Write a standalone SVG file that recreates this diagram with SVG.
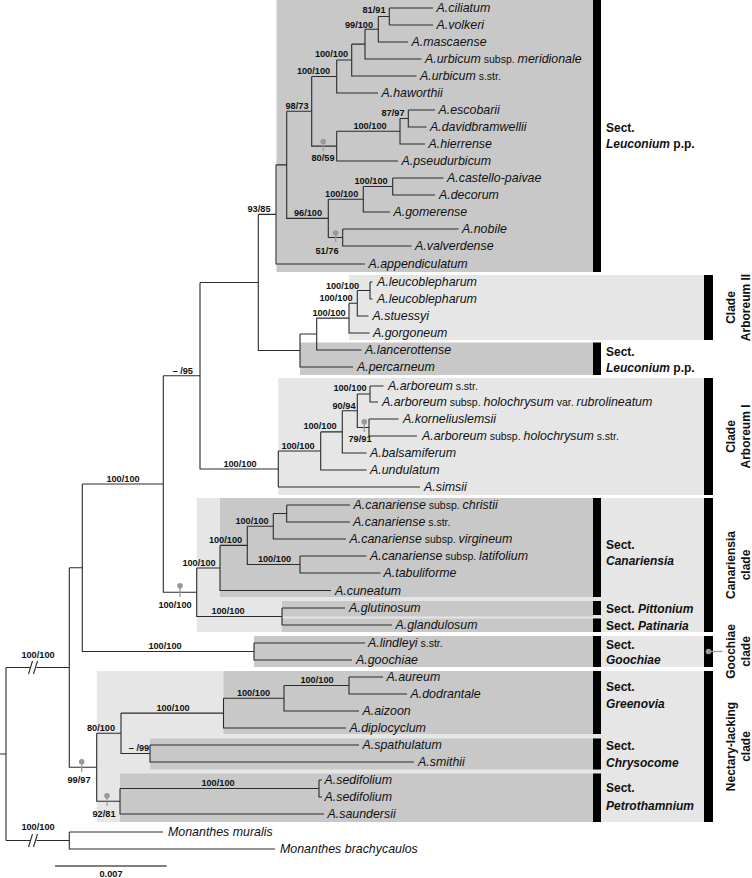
<svg xmlns="http://www.w3.org/2000/svg" width="752" height="878" viewBox="0 0 752 878">
<style>
.t{font-family:"Liberation Sans",Arial,sans-serif;font-size:12.4px;font-style:italic;fill:#111}
.u{font-style:normal;font-size:10.5px}
.s{font-family:"Liberation Sans",Arial,sans-serif;font-size:9.2px;font-weight:bold;text-anchor:middle;fill:#111}
.sec{font-family:"Liberation Sans",Arial,sans-serif;font-size:12px;font-weight:bold;fill:#111}
.i{font-style:italic}
.cl{font-family:"Liberation Sans",Arial,sans-serif;font-size:12px;font-weight:bold;fill:#111;text-anchor:middle}
.dk{fill:#c8c8c8}
.lt{fill:#e6e6e6}
.bar{fill:#000}
.br{fill:none;stroke:#2b2b2b;stroke-width:1.1}
.dot{fill:#9a9a9a}
.dl{stroke:#9a9a9a;stroke-width:1.3}
</style>
<rect width="752" height="878" fill="#fff"/>
<g id="boxes">
<rect class="dk" x="276.5" y="0" width="316.5" height="272"/>
<rect class="lt" x="349" y="275" width="355" height="65"/>
<rect class="dk" x="300" y="342.5" width="293" height="32.5"/>
<rect class="lt" x="278.3" y="378" width="425.7" height="117"/>
<rect class="lt" x="196.7" y="498" width="507.3" height="134"/>
<rect class="dk" x="220" y="498" width="373" height="99"/>
<rect class="dk" x="282" y="601" width="311" height="15.5"/>
<rect class="dk" x="282" y="618.5" width="311" height="13.5"/>
<rect class="lt" x="593" y="636" width="111" height="31"/>
<rect class="dk" x="254" y="636" width="339" height="31"/>
<rect class="lt" x="96.7" y="671" width="607.3" height="151"/>
<rect class="dk" x="223.5" y="671" width="369.5" height="63"/>
<rect class="dk" x="150" y="738.5" width="443" height="31"/>
<rect class="dk" x="120" y="773.5" width="473" height="48.5"/>
</g>
<g id="bars">
<rect class="bar" x="593" y="0" width="8" height="272"/>
<rect class="bar" x="593" y="342.5" width="8" height="32.5"/>
<rect class="bar" x="593" y="498" width="8" height="99"/>
<rect class="bar" x="593" y="601" width="8" height="14"/>
<rect class="bar" x="593" y="618.5" width="8" height="13.5"/>
<rect class="bar" x="593" y="636" width="8" height="31"/>
<rect class="bar" x="593" y="671" width="8" height="63"/>
<rect class="bar" x="593" y="738.5" width="8" height="31"/>
<rect class="bar" x="593" y="773.5" width="8" height="48.5"/>
<rect class="bar" x="704" y="275" width="9" height="65"/>
<rect class="bar" x="704" y="378" width="9" height="117"/>
<rect class="bar" x="704" y="498" width="9" height="134"/>
<rect class="bar" x="704" y="636" width="9" height="31"/>
<rect class="bar" x="704" y="671" width="9" height="151"/>
</g>
<g id="connectors" class="br">
<path d="M389.3,8V25M389.3,8H433M389.3,25H433"/>
<path d="M378.3,16.5V42H408M378.3,16.5H389.3"/>
<path d="M365,29.25V59H421.5M365,29.25H378.3"/>
<path d="M351.7,44.1V76H416.5M351.7,44.1H365"/>
<path d="M336.7,60.05V93H378M336.7,60.05H351.7"/>
<path d="M408.3,110V127H426.5M408.3,110H435"/>
<path d="M400,118.5V144H425M400,118.5H408.3"/>
<path d="M336.7,131.25V161H398M336.7,131.25H400"/>
<path d="M311.7,76.5V146.1H336.7M311.7,76.5H336.7"/>
<path d="M392.7,178V195H435M392.7,178H443.5"/>
<path d="M363.3,186.5V212H390M363.3,186.5H392.7"/>
<path d="M342.7,229V246H411.5M342.7,229H458.5"/>
<path d="M328.3,199.25V237.5H342.7M328.3,199.25H363.3"/>
<path d="M286.7,111.3V218.4H328.3M286.7,111.3H311.7"/>
<path d="M276,164.85V264H365M276,164.85H286.7"/>
<path d="M370,282V299H372.5M370,282H372.5"/>
<path d="M357.3,290.5V316H368.5M357.3,290.5H370"/>
<path d="M349,303.25V333H369.5M349,303.25H357.3"/>
<path d="M316.7,318.1V350H361.5M316.7,318.1H349"/>
<path d="M300,334V367H353M300,334H316.7"/>
<path d="M258.3,214.4V350.5H300M258.3,214.4H276"/>
<path d="M370,386V402H378M370,386H383.5"/>
<path d="M369,419V436H417M369,419H398.5"/>
<path d="M357.3,394V427.5H369M357.3,394H370"/>
<path d="M342.3,410.75V453H366.5M342.3,410.75H357.3"/>
<path d="M320.7,431.9V470H366.5M320.7,431.9H342.3"/>
<path d="M278.3,450.95V487H420M278.3,450.95H320.7"/>
<path d="M200,282.45V468.98H278.3M200,282.45H258.3"/>
<path d="M286.7,505V522H350M286.7,505H350"/>
<path d="M273.3,513.5V539H346M273.3,513.5H286.7"/>
<path d="M300,556V573H380.5M300,556H366.5"/>
<path d="M247.3,526.25V564.5H300M247.3,526.25H273.3"/>
<path d="M220,545.4V590.5H331M220,545.4H247.3"/>
<path d="M282,608V625H392M282,608H345"/>
<path d="M196.7,567.95V616.5H282M196.7,567.95H220"/>
<path d="M163.3,375.7V592.2H196.7M163.3,375.7H200"/>
<path d="M254,643V660H352M254,643H365"/>
<path d="M82.3,483.95V651.5H254M82.3,483.95H163.3"/>
<path d="M349,677V694H407M349,677H383"/>
<path d="M284,685.5V711H359M284,685.5H349"/>
<path d="M223.5,698.25V728H346M223.5,698.25H284"/>
<path d="M150,745V762H414M150,745H359"/>
<path d="M121,713.1V753.5H150M121,713.1H223.5"/>
<path d="M319,780V797H322M319,780H322"/>
<path d="M120,788.5V814H324M120,788.5H319"/>
<path d="M96.7,733.3V801.25H120M96.7,733.3H121"/>
<path d="M69.3,567.7V767.3H96.7M69.3,567.7H82.3"/>
<path d="M69.3,832V849H275M69.3,832H163"/>
<path d="M0,754H6M6,667.5V840.5M6,667.5H30.5M36.5,667.5H69.3M6,840.5H30.5M36.5,840.5H69.3"/>
<path d="M28.5,674L32.5,661M33.5,674L37.5,661M28.5,847L32.5,834M33.5,847L37.5,834"/>
</g>
<g id="scale">
<path d="M55,866H166.7" stroke="#555" stroke-width="1.3"/>
<text class="s" x="111" y="877">0.007</text>
</g>
<g id="dots">
<circle class="dot" cx="323.3" cy="141.5" r="2.8"/><path class="dl" d="M323.3,141.5V151"/>
<circle class="dot" cx="335.7" cy="233" r="2.8"/><path class="dl" d="M335.7,233V242"/>
<circle class="dot" cx="364.3" cy="421.7" r="2.8"/><path class="dl" d="M364.3,421.7V432"/>
<circle class="dot" cx="180" cy="585.7" r="2.8"/><path class="dl" d="M180,585.7V597"/>
<circle class="dot" cx="81.7" cy="761.7" r="2.8"/><path class="dl" d="M81.7,761.7V772"/>
<circle class="dot" cx="107" cy="795.7" r="2.8"/><path class="dl" d="M107,795.7V806"/>
<circle class="dot" cx="708.5" cy="651.5" r="2.8"/><path class="dl" d="M711,651.5H722.5"/>
</g>
<g id="support">
<text class="s" x="374" y="13">81/91</text>
<text class="s" x="359" y="27.5">99/100</text>
<text class="s" x="331.5" y="57">100/100</text>
<text class="s" x="313.5" y="74">100/100</text>
<text class="s" x="297" y="108.5">98/73</text>
<text class="s" x="393" y="115.5">87/97</text>
<text class="s" x="370" y="129">100/100</text>
<text class="s" x="323" y="161">80/59</text>
<text class="s" x="371" y="184">100/100</text>
<text class="s" x="341.7" y="197">100/100</text>
<text class="s" x="308" y="216">96/100</text>
<text class="s" x="327" y="254">51/76</text>
<text class="s" x="259" y="211.5">93/85</text>
<text class="s" x="342.5" y="288.5">100/100</text>
<text class="s" x="336" y="301">100/100</text>
<text class="s" x="329" y="315.5">100/100</text>
<text class="s" x="182.7" y="373.5">– /95</text>
<text class="s" x="240" y="466.5">100/100</text>
<text class="s" x="350" y="391">100/100</text>
<text class="s" x="344" y="408.5">90/94</text>
<text class="s" x="320" y="429">100/100</text>
<text class="s" x="298" y="448.5">100/100</text>
<text class="s" x="360" y="441.5">79/91</text>
<text class="s" x="252" y="523.5">100/100</text>
<text class="s" x="274.5" y="562">100/100</text>
<text class="s" x="225.5" y="543">100/100</text>
<text class="s" x="199" y="566">100/100</text>
<text class="s" x="175" y="607.5">100/100</text>
<text class="s" x="228" y="614">100/100</text>
<text class="s" x="165" y="649">100/100</text>
<text class="s" x="123" y="481.5">100/100</text>
<text class="s" x="38" y="657.5">100/100</text>
<text class="s" x="38" y="830">100/100</text>
<text class="s" x="79" y="782.5">99/97</text>
<text class="s" x="101" y="730.5">80/100</text>
<text class="s" x="173" y="710.5">100/100</text>
<text class="s" x="253.5" y="695.5">100/100</text>
<text class="s" x="317" y="683">100/100</text>
<text class="s" x="139" y="751">– /99</text>
<text class="s" x="104" y="816.5">92/81</text>
<text class="s" x="218" y="786">100/100</text>
</g>
<g id="taxa">
<g id="t-ciliatum"><text class="t" x="436.5" y="12.3">A.ciliatum</text></g>
<g id="t-volkeri"><text class="t" x="436.5" y="29.3">A.volkeri</text></g>
<g id="t-mascaense"><text class="t" x="411.5" y="46.3">A.mascaense</text></g>
<g id="t-urbicum-mer"><text class="t" x="425" y="63.3">A.urbicum<tspan class="u"> subsp. </tspan>meridionale</text></g>
<g id="t-urbicum"><text class="t" x="420" y="80.3">A.urbicum<tspan class="u"> s.str.</tspan></text></g>
<g id="t-haworthii"><text class="t" x="381.5" y="97.3">A.haworthii</text></g>
<g id="t-escobarii"><text class="t" x="438.5" y="114.3">A.escobarii</text></g>
<g id="t-davidbramwellii"><text class="t" x="430" y="131.3">A.davidbramwellii</text></g>
<g id="t-hierrense"><text class="t" x="428.5" y="148.3">A.hierrense</text></g>
<g id="t-pseudurbicum"><text class="t" x="401.5" y="165.3">A.pseudurbicum</text></g>
<g id="t-castello"><text class="t" x="447" y="182.3">A.castello-paivae</text></g>
<g id="t-decorum"><text class="t" x="439" y="199.3">A.decorum</text></g>
<g id="t-gomerense"><text class="t" x="393.5" y="216.3">A.gomerense</text></g>
<g id="t-nobile"><text class="t" x="462" y="233.3">A.nobile</text></g>
<g id="t-valverdense"><text class="t" x="415" y="250.3">A.valverdense</text></g>
<g id="t-appendiculatum"><text class="t" x="368.5" y="268.3">A.appendiculatum</text></g>
<g id="t-leuco1"><text class="t" x="377" y="286.3">A.leucoblepharum</text></g>
<g id="t-leuco2"><text class="t" x="377" y="303.3">A.leucoblepharum</text></g>
<g id="t-stuessyi"><text class="t" x="372.5" y="320.3">A.stuessyi</text></g>
<g id="t-gorgoneum"><text class="t" x="373" y="337.3">A.gorgoneum</text></g>
<g id="t-lancerottense"><text class="t" x="365" y="354.3">A.lancerottense</text></g>
<g id="t-percarneum"><text class="t" x="357" y="371.3">A.percarneum</text></g>
<g id="t-arboreum"><text class="t" x="388" y="390.3">A.arboreum<tspan class="u"> s.str.</tspan></text></g>
<g id="t-rubrolineatum"><text class="t" x="382" y="406.3">A.arboreum<tspan class="u"> subsp. </tspan>holochrysum<tspan class="u"> var. </tspan>rubrolineatum</text></g>
<g id="t-korneliuslemsii"><text class="t" x="403" y="423.3">A.korneliuslemsii</text></g>
<g id="t-holochrysum"><text class="t" x="422" y="440.3">A.arboreum<tspan class="u"> subsp. </tspan>holochrysum<tspan class="u"> s.str.</tspan></text></g>
<g id="t-balsamiferum"><text class="t" x="370" y="457.3">A.balsamiferum</text></g>
<g id="t-undulatum"><text class="t" x="370" y="474.3">A.undulatum</text></g>
<g id="t-simsii"><text class="t" x="424" y="491.3">A.simsii</text></g>
<g id="t-christii"><text class="t" x="353.5" y="509.3">A.canariense<tspan class="u"> subsp. </tspan>christii</text></g>
<g id="t-canariense"><text class="t" x="353" y="526.3">A.canariense<tspan class="u"> s.str.</tspan></text></g>
<g id="t-virgineum"><text class="t" x="349.5" y="543.3">A.canariense<tspan class="u"> subsp. </tspan>virgineum</text></g>
<g id="t-latifolium"><text class="t" x="370" y="560.3">A.canariense<tspan class="u"> subsp. </tspan>latifolium</text></g>
<g id="t-tabuliforme"><text class="t" x="383.5" y="577.3">A.tabuliforme</text></g>
<g id="t-cuneatum"><text class="t" x="335" y="594.8">A.cuneatum</text></g>
<g id="t-glutinosum"><text class="t" x="349" y="612.3">A.glutinosum</text></g>
<g id="t-glandulosum"><text class="t" x="395.5" y="629.3">A.glandulosum</text></g>
<g id="t-lindleyi"><text class="t" x="368" y="647.3">A.lindleyi<tspan class="u"> s.str.</tspan></text></g>
<g id="t-goochiae"><text class="t" x="356" y="664.3">A.goochiae</text></g>
<g id="t-aureum"><text class="t" x="386.5" y="681.3">A.aureum</text></g>
<g id="t-dodrantale"><text class="t" x="410.5" y="698.3">A.dodrantale</text></g>
<g id="t-aizoon"><text class="t" x="362.5" y="715.3">A.aizoon</text></g>
<g id="t-diplocyclum"><text class="t" x="349.5" y="732.3">A.diplocyclum</text></g>
<g id="t-spathulatum"><text class="t" x="362.5" y="749.3">A.spathulatum</text></g>
<g id="t-smithii"><text class="t" x="418" y="766.3">A.smithii</text></g>
<g id="t-sedifolium1"><text class="t" x="324.5" y="784.3">A.sedifolium</text></g>
<g id="t-sedifolium2"><text class="t" x="324.5" y="801.3">A.sedifolium</text></g>
<g id="t-saundersii"><text class="t" x="327.5" y="818.3">A.saundersii</text></g>
<g id="t-muralis"><text class="t" x="168" y="836.3">Monanthes muralis</text></g>
<g id="t-brachycaulos"><text class="t" x="280" y="853.3">Monanthes brachycaulos</text></g>
</g>
<g id="sections">
<g id="sec-leuconium1"><text class="sec" x="606" y="132">Sect.</text><text class="sec" x="606" y="148"><tspan class="i">Leuconium</tspan> p.p.</text></g>
<g id="sec-leuconium2"><text class="sec" x="606" y="355.5">Sect.</text><text class="sec" x="606" y="372"><tspan class="i">Leuconium</tspan> p.p.</text></g>
<g id="sec-canariensia"><text class="sec" x="606" y="549">Sect.</text><text class="sec i" x="606" y="564.5">Canariensia</text></g>
<g id="sec-pittonium"><text class="sec" x="606" y="613">Sect. <tspan class="i">Pittonium</tspan></text></g>
<g id="sec-patinaria"><text class="sec" x="606" y="630">Sect. <tspan class="i">Patinaria</tspan></text></g>
<g id="sec-goochiae"><text class="sec" x="606" y="649">Sect.</text><text class="sec i" x="606" y="664">Goochiae</text></g>
<g id="sec-greenovia"><text class="sec" x="606" y="691">Sect.</text><text class="sec i" x="606" y="708">Greenovia</text></g>
<g id="sec-chrysocome"><text class="sec" x="606" y="750">Sect.</text><text class="sec i" x="606" y="767">Chrysocome</text></g>
<g id="sec-petrothamnium"><text class="sec" x="606" y="792">Sect.</text><text class="sec i" x="606" y="810">Petrothamnium</text></g>
</g>
<g id="clades">
<g id="cl-arb2" transform="translate(0,307.5)"><text class="cl" transform="translate(735,0) rotate(-90)">Clade</text><text class="cl" transform="translate(749.5,0) rotate(-90)">Arboreum II</text></g>
<g id="cl-arb1" transform="translate(0,436.5)"><text class="cl" transform="translate(735,0) rotate(-90)">Clade</text><text class="cl" transform="translate(749.5,0) rotate(-90)">Arboreum I</text></g>
<g id="cl-canariensia" transform="translate(0,565)"><text class="cl" transform="translate(735,0) rotate(-90)">Canariensia</text><text class="cl" transform="translate(749.5,0) rotate(-90)">clade</text></g>
<g id="cl-goochiae" transform="translate(0,651.5)"><text class="cl" transform="translate(735,0) rotate(-90)">Goochiae</text><text class="cl" transform="translate(749.5,0) rotate(-90)">clade</text></g>
<g id="cl-nectary" transform="translate(0,746.5)"><text class="cl" transform="translate(735,0) rotate(-90)">Nectary-lacking</text><text class="cl" transform="translate(749.5,0) rotate(-90)">clade</text></g>
</g>
</svg>
